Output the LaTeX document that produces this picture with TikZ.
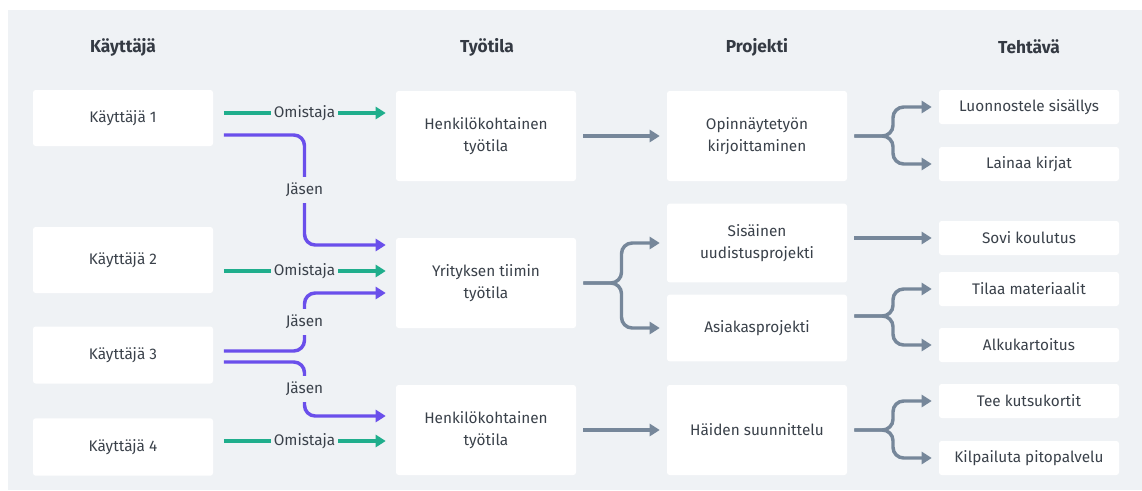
\documentclass[tikz,border=0pt]{standalone}
\usepackage{fontspec}
\setmainfont{Fira Sans}
\usepackage{xcolor}
\usetikzlibrary{arrows.meta, positioning, calc}
\definecolor{panel}{HTML}{EFF2F5}
\definecolor{owngreen}{HTML}{1FAE8C}
\definecolor{mempurple}{HTML}{6A4FEB}
\definecolor{flowgray}{HTML}{76879A}
\definecolor{txt}{HTML}{3A414A}
\tikzstyle{arrow} = [line width=2.6pt, -{Triangle[length=7.5pt,width=9pt]}]

\begin{document}
\begin{tikzpicture}[x=0.75pt, y=-0.75pt, font=\fontsize{11.5}{17}\selectfont, text=txt]
\tikzstyle{box} = [rectangle, rounded corners=2pt, fill=white, minimum width=135pt, text centered, align=center, inner sep=2pt]
\tikzstyle{hdr} = [font=\fontsize{13}{15}\selectfont\bfseries, text=txt!90!black]
\tikzstyle{lbl} = [fill=panel, text=txt, inner xsep=2pt, inner ysep=4.5pt]
\tikzstyle{own} = [arrow, owngreen, shorten <=8pt, shorten >=7.5pt]
\tikzstyle{mem} = [arrow, mempurple, rounded corners=8pt, shorten <=8pt, shorten >=7.5pt]
\tikzstyle{flow} = [arrow, flowgray, rounded corners=8pt, shorten <=5.25pt, shorten >=5.25pt]

\useasboundingbox (0,0) rectangle (1142,490);
\fill[white] (0,0) rectangle (1142,490);
\fill[panel] (8,10) rectangle (1142,490);

% column headers
\node (hkayt) [hdr] at (123,47) {Käyttäjä};
\node (htyo) [hdr] at (487,47) {Työtila};
\node (hproj) [hdr] at (757,47) {Projekti};
\node (hteht) [hdr] at (1029,47) {Tehtävä};

% users
\node (k1) [box, minimum height=42pt] at (123,118) {Käyttäjä 1};
\node (k2) [box, minimum height=49.5pt] at (123,260) {Käyttäjä 2};
\node (k3) [box, minimum height=42.75pt] at (123,355) {Käyttäjä 3};
\node (k4) [box, minimum height=43pt] at (123,447) {Käyttäjä 4};

% workspaces
\node (ws1) [box, minimum height=67.5pt] at (486,136) {Henkilökohtainen\\työtila};
\node (ws2) [box, minimum height=67.5pt] at (486,283) {Yrityksen tiimin\\työtila};
\node (ws3) [box, minimum height=67.5pt] at (486,430) {Henkilökohtainen\\työtila};

% projects
\node (p1) [box, minimum height=67.5pt] at (757,136) {Opinnäytetyön\\kirjoittaminen};
\node (p2) [box, minimum height=59pt] at (757,243) {Sisäinen\\uudistusprojekti};
\node (p3) [box, minimum height=50pt] at (757,328) {Asiakasprojekti};
\node (p4) [box, minimum height=67.5pt] at (757,430) {Häiden suunnittelu};

% tasks
\node (t1) [box, minimum height=25.5pt] at (1029,107) {Luonnostele sisällys};
\node (t2) [box, minimum height=25.5pt] at (1029,164) {Lainaa kirjat};
\node (t3) [box, minimum height=25.5pt] at (1029,238) {Sovi koulutus};
\node (t4) [box, minimum height=25.5pt] at (1029,289) {Tilaa materiaalit};
\node (t5) [box, minimum height=25.5pt] at (1029,345) {Alkukartoitus};
\node (t6) [box, minimum height=25.5pt] at (1029,401) {Tee kutsukortit};
\node (t7) [box, minimum height=25.5pt] at (1029,458) {Kilpailuta pitopalvelu};

% owner links
\coordinate (o1) at ($(k1.east)+(0,-5)$);
\coordinate (o2) at ($(k2.east)+(0,11)$);
\coordinate (o4) at ($(k4.east)+(0,-6)$);
\draw [own] (o1) -- node[lbl] {Omistaja} (o1 -| ws1.west);
\draw [own] (o2) -- node[lbl] {Omistaja} (o2 -| ws2.west);
\draw [own] (o4) -- node[lbl] {Omistaja} (o4 -| ws3.west);

% member links
\coordinate (jx) at ($(k1.east)!.5!(ws1.west)$);
\coordinate (j1) at ($(k1.east)+(0,17)$);
\coordinate (j1e) at ($(ws2.west)+(0,-38)$);
\coordinate (j3a) at ($(k3.east)+(0,-4)$);
\coordinate (j3ae) at ($(ws2.west)+(0,10)$);
\coordinate (j3b) at ($(k3.east)+(0,7)$);
\coordinate (j3be) at ($(ws3.west)+(0,-14)$);
\draw [mem] (j1) -- (jx |- j1) -- node[lbl] {Jäsen} (jx |- j1e) -- (j1e);
\draw [mem] (j3a) -- (jx |- j3a) -- node[lbl] {Jäsen} (jx |- j3ae) -- (j3ae);
\draw [mem] (j3b) -- (jx |- j3b) -- node[lbl] {Jäsen} (jx |- j3be) -- (j3be);

% workspace -> project
\coordinate (bx2) at ($(ws2.east)!.5!(p2.west)$);
\draw [flow] (ws1) -- (p1);
\draw [flow] (ws2.east) -| (bx2 |- p2.west) -- (p2.west);
\draw [flow] (ws2.east) -| (bx2 |- p3.west) -- (p3.west);
\draw [flow] (ws3) -- (p4);

% project -> task
\coordinate (bx1) at ($(p1.east)!.5!(t1.west)$);
\coordinate (s3) at ($(p3.east)+(0,-12)$);
\draw [flow] (p1.east) -| (bx1 |- t1.west) -- (t1.west);
\draw [flow] (p1.east) -| (bx1 |- t2.west) -- (t2.west);
\draw [flow] (p2.east |- t3.west) -- (t3.west);
\draw [flow] (s3) -| (bx1 |- t4.west) -- (t4.west);
\draw [flow] (s3) -| (bx1 |- t5.west) -- (t5.west);
\draw [flow] (p4.east) -| (bx1 |- t6.west) -- (t6.west);
\draw [flow] (p4.east) -| (bx1 |- t7.west) -- (t7.west);

\end{tikzpicture}
\end{document}
